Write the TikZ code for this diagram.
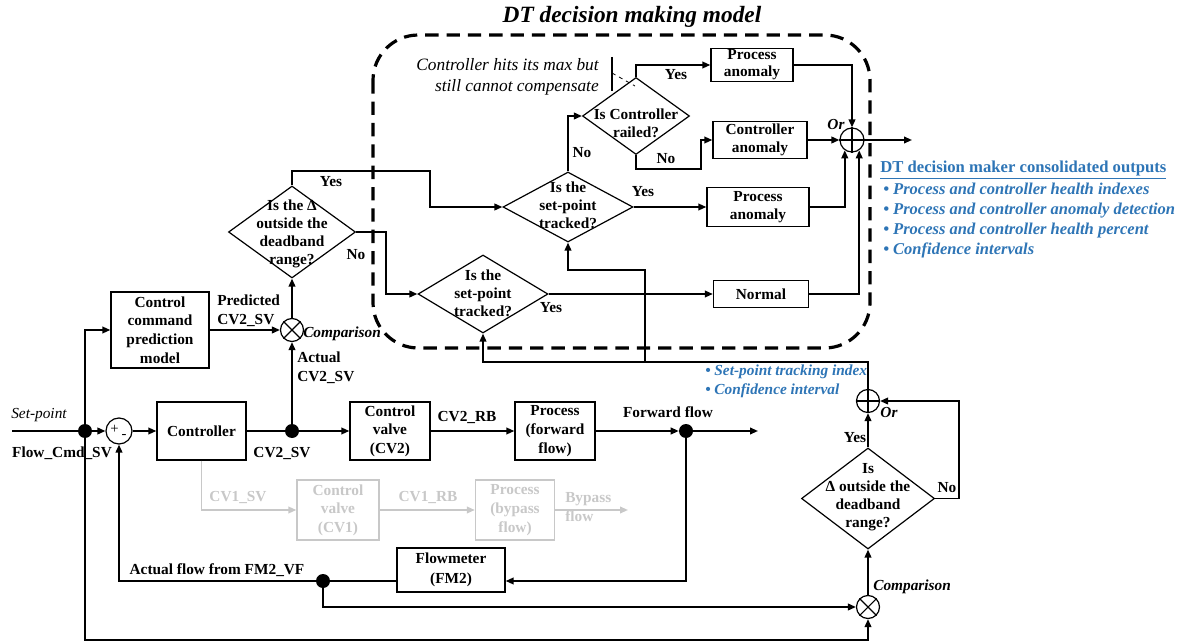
\documentclass[tikz,border=0pt]{standalone}
\usepackage{fontspec}
\setmainfont{Liberation Serif}
\usetikzlibrary{arrows.meta,shapes.geometric,calc}

\definecolor{outblue}{RGB}{46,117,182}
\definecolor{ghost}{RGB}{200,200,200}
\newlength{\pxu}\setlength{\pxu}{0.75pt}

\tikzset{
  wire/.style={line width=1.3pt},
  arr/.style={wire,-{Triangle[length=6pt,width=5pt]}},
  blk/.style={draw,line width=1pt,align=center,inner sep=0pt,fill=white},
  dia/.style={draw,diamond,line width=0.9pt,inner sep=0pt,fill=white},
  dtext/.style={align=center,inner sep=0pt,font=\fontsize{11.5}{13.6}\selectfont\bfseries},
  junc/.style={draw,circle,line width=0.9pt,inner sep=0pt,fill=white},
  dot/.style={circle,fill=black,inner sep=0pt,minimum size=14*\pxu},
  lbl/.style={inner sep=0pt,align=center},
  ilbl/.style={inner sep=0pt,font=\fontsize{11.5}{14}\selectfont\bfseries\itshape},
  bluelbl/.style={inner sep=0pt,align=left,text=outblue,font=\fontsize{11.5}{14}\selectfont\bfseries\itshape},
}

\begin{document}
\begin{tikzpicture}[x=0.75pt,y=-0.75pt,font=\fontsize{11.5}{14}\selectfont\bfseries]
\useasboundingbox (0,0) rectangle (1183,642);

% decision-model frame and its title
\draw[line width=2.4pt,dash pattern=on 10pt off 6pt,rounded corners=34pt]
  (373,35) rectangle (870,348);
\node[inner sep=0pt,font=\fontsize{17.5}{20}\selectfont\bfseries\itshape] (title) at (632,17) {DT decision making model};

% ---------- blocks ----------
\node[blk,minimum width=98*\pxu,minimum height=76*\pxu] (ccpm) at (160,330) {Control\\command\\prediction\\model};
\node[blk,minimum width=89*\pxu,minimum height=58*\pxu] (ctrl) at (201.5,431) {Controller};
\node[blk,minimum width=80*\pxu,minimum height=58*\pxu] (cv2) at (390,431) {Control\\valve\\(CV2)};
\node[blk,minimum width=80*\pxu,minimum height=58*\pxu] (pff) at (555,431) {Process\\(forward\\flow)};
\node[blk,draw=ghost,text=ghost,minimum width=82*\pxu,minimum height=60*\pxu] (cv1) at (338,510) {Control\\valve\\(CV1)};
\node[blk,draw=ghost,text=ghost,minimum width=79*\pxu,minimum height=60*\pxu] (pbf) at (515,510) {Process\\(bypass\\flow)};
\node[blk,minimum width=108*\pxu,minimum height=44*\pxu,font=\fontsize{11.5}{15}\selectfont\bfseries] (fm) at (451,570) {Flowmeter\\(FM2)};

\node[blk,minimum width=82*\pxu,minimum height=33*\pxu,font=\fontsize{11.5}{12.8}\selectfont\bfseries] (pa1) at (752,65) {Process\\anomaly};
\node[blk,minimum width=94*\pxu,minimum height=37*\pxu] (ca) at (760,140) {Controller\\anomaly};
\node[blk,minimum width=102*\pxu,minimum height=39*\pxu] (pa2) at (758,207) {Process\\anomaly};
\node[blk,minimum width=95*\pxu,minimum height=27*\pxu] (nrm) at (761,294) {Normal};

% ---------- decisions ----------
\node[dia,minimum width=127*\pxu,minimum height=92*\pxu] (d1) at (292,232) {};
\node[dtext] (d1t) at (292,234) {Is the Δ\\outside the\\deadband\\range?};
\node[dia,minimum width=130*\pxu,minimum height=70*\pxu] (d2) at (568,207) {};
\node[dtext] (d2t) at (568,205) {Is the\\set-point\\tracked?};
\node[dia,minimum width=130*\pxu,minimum height=78*\pxu] (d3) at (483,294) {};
\node[dtext] (d3t) at (483,293) {Is the\\set-point\\tracked?};
\node[dia,minimum width=107*\pxu,minimum height=77*\pxu] (dr) at (636,116) {};
\node[dtext] (drt) at (636,123) {Is Controller\\railed?};
\node[dia,minimum width=133*\pxu,minimum height=101*\pxu] (d4) at (868,498.5) {};
\node[dtext] (d4t) at (868,497) {Is\\Δ outside the\\deadband\\range?};

% ---------- summing / comparison junctions ----------
\node[junc,minimum size=26*\pxu] (sum) at (119,431) {};
\node[inner sep=0pt,font=\fontsize{11}{12}\selectfont\mdseries] (sumplus) at (114.5,429) {+};
\node[inner sep=0pt,font=\fontsize{11}{12}\selectfont\mdseries] (summinus) at (124,436) {-};
\node[junc,minimum size=23*\pxu] (cmp1) at (292,330) {};
\draw[line width=0.8pt] (cmp1.45) -- (cmp1.225) (cmp1.135) -- (cmp1.315);
\node[junc,minimum size=23*\pxu] (cmp2) at (868,607) {};
\draw[line width=0.8pt] (cmp2.45) -- (cmp2.225) (cmp2.135) -- (cmp2.315);
\node[junc,minimum size=24*\pxu] (orT) at (852,140) {};
\draw[line width=0.8pt] (orT.north) -- (orT.south) (orT.east) -- (orT.west);
\node[junc,minimum size=23*\pxu] (orB) at (868,401) {};
\draw[line width=0.8pt] (orB.north) -- (orB.south) (orB.east) -- (orB.west);

% ---------- branch points ----------
\node[dot] (jin) at (85,431) {};
\node[dot] (jcv) at (292,431) {};
\node[dot] (jff) at (686,431) {};
\node[dot] (jfm) at (323,581) {};

% free ends and corners
\coordinate (spin) at (12,431);
\coordinate (ffout) at (758,431);
\coordinate (bpout) at (628,510);
\coordinate (dtout) at (912,140);
\coordinate (lowc) at (868,640);
\coordinate (tap) at (645,362);

% ---------- main loop ----------
\draw[wire] (spin) -- (jin);
\draw[arr] (jin) -- (sum);
\draw[arr] (sum) -- (ctrl);
\draw[wire] (ctrl) -- (jcv);
\draw[arr] (jcv) -- (cv2);
\draw[arr] (cv2) -- (pff);
\draw[arr] (pff) -- (jff);
\draw[arr] (jff) -- (ffout);
\draw[arr] (jin) |- (ccpm.west);
\draw[arr] (ccpm) -- (cmp1);
\draw[arr] (jcv) -- (cmp1);
\draw[arr] (cmp1) -- (d1);

% bypass path (inactive)
\draw[arr,ghost] (ctrl.south) |- (cv1.west);
\draw[arr,ghost] (cv1) -- (pbf);
\draw[arr,ghost] (pbf) -- (bpout);

% measurement feedback
\draw[arr] (jff) |- (fm.east |- jfm);
\draw[wire] (fm.west |- jfm) -- (jfm);
\draw[arr] (jfm) -| (sum.south);
\draw[arr] (jfm) |- (cmp2.west);
\draw[arr] (jin) |- (lowc) -- (cmp2.south);
\draw[arr] (cmp2) -- (d4);
\draw[arr] (d4.north) -- (orB.south);
\draw[arr] (d4.east) -| (959,401) -- (orB.east);
\draw[arr] (orB.north) |- (483,362) -- (d3.south);
\draw[arr] (tap) |- (568,270) -- (d2.south);

% ---------- decision logic ----------
\draw[arr] (d1.north) |- (430,171) |- (d2.west);
\draw[arr] (d1.east) -| (386,294) -- (d3.west);
\draw[arr] (d3.east) -- (nrm.west);
\draw[arr] (d2.east) -- (pa2.west);
\draw[arr] (d2.north) |- (dr.west);
\draw[arr] (dr.north) |- (pa1.west);
\draw[arr] (dr.south) |- (701,169) |- (ca.west);
\draw[arr] (pa1.east) -| (orT.north);
\draw[arr] (ca.east) -- (orT.west);
\draw[arr] (pa2.east) -| (orT.235);
\draw[arr] (nrm.east) -| (orT.305);
\draw[arr] (orT) -- (dtout);

% annotation on the railed test
\node[inner sep=0pt,anchor=east,align=right,font=\fontsize{13}{16}\selectfont\mdseries\itshape] (note) at (599,77) {Controller hits its max but\\still cannot compensate};
\coordinate (tickA) at (612,57);
\coordinate (tickB) at (612,91);
\draw[line width=0.8pt] (tickA) -- (tickB);
\coordinate (leadA) at (612,73);
\coordinate (leadB) at (635,86);
\draw[line width=0.6pt,dashed] (leadA) -- (leadB);

% ---------- labels ----------
\node[inner sep=0pt,font=\fontsize{11.5}{14}\selectfont\mdseries\itshape] (lsp) at (39,415) {Set-point};
\node[lbl] (lfc) at (62,453) {Flow\_Cmd\_SV};
\node[lbl] (lcv2) at (282,453) {CV2\_SV};
\node[lbl,anchor=west,align=left] (lpred) at (217,311) {Predicted\\CV2\_SV};
\node[lbl,anchor=west,align=left] (lact) at (297,368) {Actual\\CV2\_SV};
\node[ilbl,anchor=west] (lcmp1) at (303,334) {Comparison};
\node[lbl] (lrb) at (467,417) {CV2\_RB};
\node[lbl] (lff) at (668,412) {Forward flow};
\node[lbl,text=ghost] (lcv1) at (238,497) {CV1\_SV};
\node[lbl,text=ghost] (lrb1) at (428,497) {CV1\_RB};
\node[lbl,text=ghost,anchor=west,align=left] (lbp) at (565,507) {Bypass\\flow};
\node[lbl] (laf) at (217,570) {Actual flow from FM2\_VF};
\node[ilbl,anchor=west] (lcmp2) at (873,587) {Comparison};

\node[lbl] (y1) at (331,182) {Yes};
\node[lbl] (n1) at (356,255) {No};
\node[lbl] (y2) at (643,192) {Yes};
\node[lbl] (y3) at (551,308) {Yes};
\node[lbl] (n2) at (582,153) {No};
\node[lbl] (yr) at (676,75) {Yes};
\node[lbl] (nr) at (666,159) {No};
\node[ilbl] (orTl) at (836,124) {Or};
\node[lbl] (y4) at (855,438) {Yes};
\node[lbl] (n4) at (947,488) {No};
\node[ilbl] (orBl) at (889,412) {Or};

% ---------- outputs ----------
\node[bluelbl,anchor=west] (spout) at (705,381) {\textbullet\ Set-point tracking index\\\textbullet\ Confidence interval};
\node[inner sep=0pt,anchor=west,text=outblue,font=\fontsize{12.5}{15}\selectfont\bfseries] (outhd) at (880,170) {\underline{DT decision maker consolidated outputs}};
\node[bluelbl,anchor=north west,font=\fontsize{12.4}{15}\selectfont\bfseries\itshape] (outls) at (883,183)
  {\textbullet\ Process and controller health indexes\\
   \textbullet\ Process and controller anomaly detection\\
   \textbullet\ Process and controller health percent\\
   \textbullet\ Confidence intervals};
\end{tikzpicture}
\end{document}
